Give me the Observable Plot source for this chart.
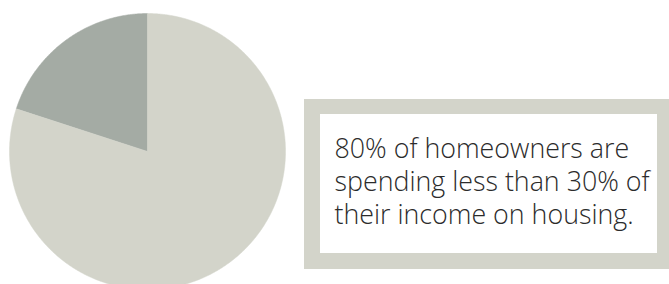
<!DOCTYPE html>
<html>
<head>
<meta charset="utf-8">
<script src="https://cdn.jsdelivr.net/npm/d3@7"></script>
<script src="https://cdn.jsdelivr.net/npm/@observablehq/plot@0.6"></script>
<style>
  html, body { margin: 0; padding: 0; background: #fff; }
  #wrap { position: relative; width: 669px; height: 284px; overflow: hidden; }
  #box { position: absolute; left: 304px; top: 99px; width: 370px; height: 170px; background: #d3d4ca; }
  #inner { position: absolute; left: 16px; top: 15px; width: 337px; height: 139px; background: #fff;
    box-sizing: border-box; padding: 16.6px 0 0 14.5px; white-space: nowrap;
    font-family: "Open Sans", sans-serif; font-weight: 300; font-size: 26.8px; line-height: 33px; color: #2b2b2b; }
</style>
</head>
<body>
<div id="wrap"><div id="box"><div id="inner"></div></div></div>
<script>
const categories = ["Spending 30% or more", "Spending less than 30%"];
const shares = [20, 80];
const colors = ["#a4aba4", "#d3d4ca"];
const message = ["80% of homeowners are", "spending less than 30% of", "their income on housing."];

// slice outlines on the unit circle (angles from d3.pie, drawn through Plot scales)
const pie = d3.pie().sort(null).startAngle(-2 * Math.PI * shares[0] / 100).endAngle(2 * Math.PI - 2 * Math.PI * shares[0] / 100);
const arcs = pie(shares);
const pts = [];
arcs.forEach((a, i) => {
  pts.push({slice: categories[i], x: 0, y: 0});
  const n = Math.max(8, Math.ceil((a.endAngle - a.startAngle) / (Math.PI / 360)));
  for (let k = 0; k <= n; k++) {
    const t = a.startAngle + (a.endAngle - a.startAngle) * k / n;
    pts.push({slice: categories[i], x: Math.sin(t), y: Math.cos(t)});
  }
  pts.push({slice: categories[i], x: 0, y: 0});
});

const chart = Plot.plot({
  width: 669,
  height: 284,
  margin: 0,
  x: {domain: [-1, 1], range: [9, 285], axis: null},
  y: {domain: [-1, 1], range: [289, 13], axis: null},
  color: {domain: categories, range: colors},
  marks: [
    Plot.line(pts, {x: "x", y: "y", z: "slice", fill: "slice", stroke: "slice", strokeWidth: 0.5})
  ]
});
chart.style.position = "absolute";
chart.style.left = "0";
chart.style.top = "0";
document.getElementById("wrap").prepend(chart);
document.getElementById("inner").innerHTML = message.join("<br>");
</script>
</body>
</html>
